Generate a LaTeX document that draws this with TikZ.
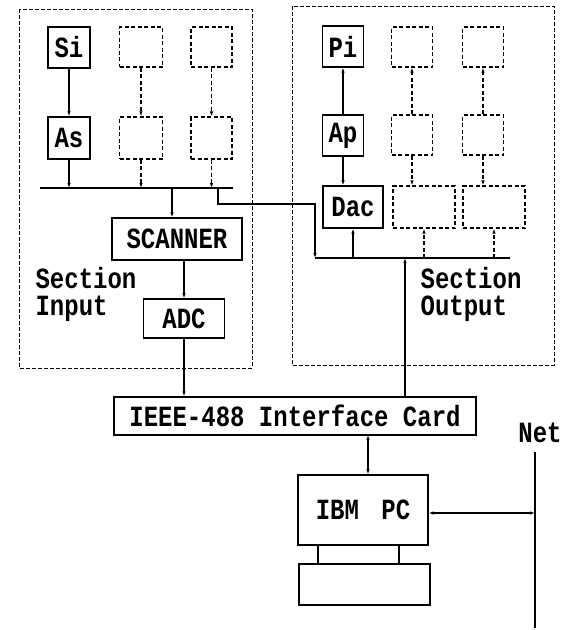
\documentclass[tikz,border=0pt]{standalone}
\usepackage{fontspec}
\usepackage{graphicx}
\setmainfont{Liberation Mono}
\usetikzlibrary{arrows.meta}
\newcommand{\tallt}[1]{\scalebox{1}[1.22]{#1}}
\begin{document}
\begin{tikzpicture}[x=1pt,y=-1pt,
  line width=1.2pt,
  txt/.style={font=\fontsize{24}{28}\selectfont\bfseries},
  box/.style={draw,rectangle,inner sep=0pt,txt},
  dbox/.style={box,dashed,dash pattern=on 4pt off 2.5pt},
  sect/.style={draw,dashed,dash pattern=on 4pt off 2pt,line width=0.9pt},
  dl/.style={dashed,dash pattern=on 4pt off 2.5pt},
  arr/.style={-{Latex[length=5pt,width=3.5pt]}},
  barr/.style={{Latex[length=5pt,width=3.5pt]}-{Latex[length=5pt,width=3.5pt]}},
  lbl/.style={txt,align=left,inner sep=0pt,anchor=west}]
\useasboundingbox (0,0) rectangle (564,630);
% section frames
\draw[sect] (19,9) rectangle (252,368);
\draw[sect] (292,6) rectangle (554,365);
% ---------- input section ----------
\node[box,minimum width=42pt,minimum height=41pt] (si) at (69,47.5) {\tallt{Si}};
\node[box,minimum width=42pt,minimum height=42pt] (as) at (69,138) {\tallt{As}};
\node[dbox,minimum width=43pt,minimum height=40pt] (l2t) at (141,47) {};
\node[dbox,minimum width=43pt,minimum height=42pt] (l2b) at (141,138) {};
\node[dbox,minimum width=41pt,minimum height=40pt] (l3t) at (211.5,47) {};
\node[dbox,minimum width=41pt,minimum height=42pt] (l3b) at (211.5,138) {};
\draw[arr] (si) -- (as);
\draw[arr,dl] (l2t) -- (l2b);
\draw[arr,dl] (l3t) -- (l3b);
\coordinate (lbusL) at (40,188);
\coordinate (lbusR) at (233,188);
\draw (lbusL) -- (lbusR);
\draw[arr] (as.south) -- (as.south |- lbusL);
\draw[arr,dl] (l2b.south) -- (l2b.south |- lbusL);
\draw[arr,dl] (l3b.south) -- (l3b.south |- lbusL);
\node[box,minimum width=130pt,minimum height=42pt] (scanner) at (177,239) {\tallt{SCANNER}};
\coordinate (scin) at (172,188);
\draw[arr] (scin) -- (scin |- scanner.north);
\node[box,minimum width=81pt,minimum height=39pt] (adc) at (184,318.5) {\tallt{ADC}};
\draw[arr] (adc.north |- scanner.south) -- (adc.north);
\node[lbl] (secin) at (35,295) {\tallt{\begin{tabular}{@{}l@{}}Section\\[-6pt]Input\end{tabular}}};
% ---------- output section ----------
\node[box,minimum width=41pt,minimum height=41pt] (pi) at (343,46.5) {\tallt{Pi}};
\node[box,minimum width=41pt,minimum height=41pt] (ap) at (343,135.5) {\tallt{Ap}};
\node[dbox,minimum width=41pt,minimum height=40pt] (r2t) at (412,47) {};
\node[dbox,minimum width=41pt,minimum height=40pt] (r2m) at (412,135) {};
\node[dbox,minimum width=41pt,minimum height=40pt] (r3t) at (483,47) {};
\node[dbox,minimum width=41pt,minimum height=40pt] (r3m) at (483,135) {};
\node[box,minimum width=60pt,minimum height=42pt] (dac) at (353,207) {\tallt{Dac}};
\node[dbox,minimum width=62pt,minimum height=42pt] (r2d) at (424,207) {};
\node[dbox,minimum width=62pt,minimum height=42pt] (r3d) at (494,207) {};
\draw[arr] (ap) -- (pi);
\draw[arr,dl] (r2m) -- (r2t);
\draw[arr,dl] (r3m) -- (r3t);
\draw[arr] (ap.south) -- (ap.south |- dac.north);
\draw[arr,dl] (r2m.south) -- (r2m.south |- r2d.north);
\draw[arr,dl] (r3m.south) -- (r3m.south |- r3d.north);
\coordinate (rbusL) at (315,258);
\coordinate (rbusR) at (510,258);
\draw (rbusL) -- (rbusR);
\draw[arr] (dac.south |- rbusL) -- (dac.south);
\draw[arr,dl] (r2d.south |- rbusL) -- (r2d.south);
\draw[arr,dl] (r3d.south |- rbusL) -- (r3d.south);
\node[lbl] (secout) at (420,295) {\tallt{\begin{tabular}{@{}l@{}}Section\\[-6pt]Output\end{tabular}}};
% link from input bus to output bus
\coordinate (lk1) at (218,188);
\coordinate (lk2) at (218,204);
\draw[arr] (lk1) -- (lk2) -| (rbusL);
% ---------- interface and PC ----------
\node[box,minimum width=362pt,minimum height=38pt] (card) at (295,416) {\tallt{IEEE-488 Interface Card}};
\draw[arr] (adc.south) -- (adc.south |- card.north);
\coordinate (rbo) at (405,258);
\draw[arr] (rbo |- card.north) -- (rbo);
\node[box,minimum width=130pt,minimum height=70pt] (pc) at (363,510) {\tallt{IBM\hspace{8pt} PC}};
\coordinate (cpc) at (368,435);
\draw[barr] (cpc) -- (cpc |- pc.north);
\node[box,minimum width=81pt,minimum height=19pt] (ped) at (358.5,554.5) {};
\node[box,minimum width=131pt,minimum height=41pt] (base) at (364.5,584.5) {};
\coordinate (netT) at (535,452);
\coordinate (netB) at (535,628);
\draw (netT) -- (netB);
\node[txt] (net) at (540,433) {\tallt{Net}};
\coordinate (pcnet) at (535,513);
\draw[barr] (pc.east |- pcnet) -- (pcnet);
\end{tikzpicture}
\end{document}
